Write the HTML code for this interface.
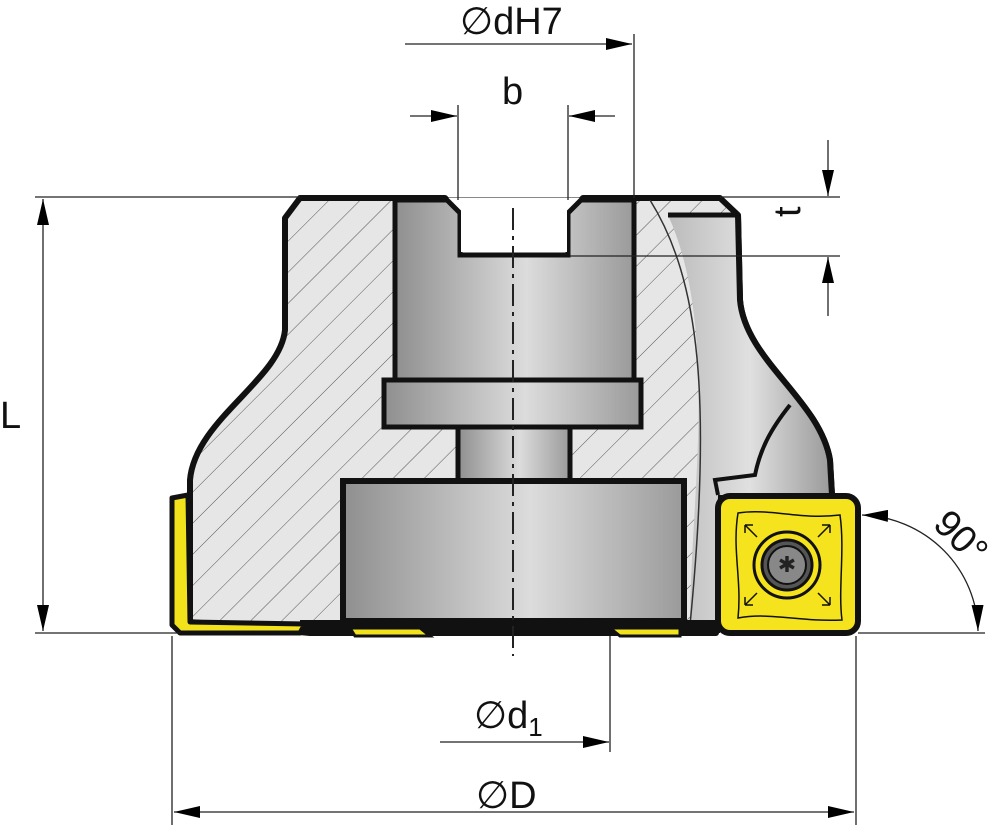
<!DOCTYPE html>
<html><head><style>html,body{margin:0;padding:0;background:#fff}svg{display:block}</style></head><body>
<svg width="1000" height="834" viewBox="0 0 1000 834" xmlns="http://www.w3.org/2000/svg" font-family="Liberation Sans, sans-serif">
<defs>
<pattern id="h" width="22" height="22" patternUnits="userSpaceOnUse" patternTransform="rotate(45)">
<rect width="22" height="22" fill="#e6e6e6"/><line x1="0" y1="0" x2="0" y2="22" stroke="#555" stroke-width="1"/></pattern>
<linearGradient id="g" x1="0" x2="1"><stop offset="0" stop-color="#8f8f8f"/><stop offset="0.55" stop-color="#dcdcdc"/><stop offset="1" stop-color="#9a9a9a"/></linearGradient>
<linearGradient id="g2" x1="0" x2="1"><stop offset="0" stop-color="#bbb"/><stop offset="0.5" stop-color="#e0e0e0"/><stop offset="1" stop-color="#999"/></linearGradient>
<marker id="a" viewBox="0 0 26 12" refX="26" refY="6" markerWidth="26" markerHeight="12" markerUnits="userSpaceOnUse" orient="auto-start-reverse"><path d="M0,0L26,6L0,12z" fill="#000"/></marker>
</defs>
<!-- body -->
<path d="M285,218 L300,198 L445,198 L460,213 L460,255 L568,255 L568,213 L583,198 L720,198 L738,215 L740,300 C745,360 820,400 830,460 L832,495 L718,495 L716,633 L310,633 L190,622 L190,480 C195,420 280,380 285,330 Z" fill="url(#h)" stroke="#111" stroke-width="6" stroke-linejoin="round"/>
<path d="M668,215 L738,215 L740,300 C745,360 820,400 830,460 L832,495 L718,495 L716,625 L690,625 C690,500 720,330 668,215 Z" fill="url(#g2)"/>
<path d="M650,200 C700,280 712,400 690,625" fill="none" stroke="#333" stroke-width="1.5"/>
<path d="M668,215 L738,215" stroke="#111" stroke-width="5"/>
<path d="M790,405 C770,430 760,450 755,475 L715,480 L718,495" fill="none" stroke="#111" stroke-width="4"/>
<path d="M738,215 L740,300 C745,360 820,400 830,460 L832,495" fill="none" stroke="#111" stroke-width="6"/>
<!-- arbor -->
<rect x="395" y="200" width="239" height="182" fill="url(#g)" stroke="#111" stroke-width="5"/>
<path d="M393,198 L445,198 L460,213 L460,255 L568,255 L568,213 L583,198 L636,198" fill="#fff" stroke="#111" stroke-width="5"/>
<rect x="461" y="202" width="106" height="50" fill="#fff"/>
<rect x="458" y="425" width="112" height="58" fill="url(#g)" stroke="#111" stroke-width="5"/>
<rect x="384" y="380" width="257" height="47" fill="url(#g)" stroke="#111" stroke-width="5"/>
<rect x="343" y="481" width="341" height="140" fill="url(#g)" stroke="#111" stroke-width="6"/>
<rect x="300" y="620" width="420" height="13" fill="#111"/>
<!-- yellow bits -->
<path d="M172,498 L188,495 L190,622 L305,624 L300,633 L180,633 L172,625 Z" fill="#f2e21c" stroke="#111" stroke-width="5" stroke-linejoin="round"/>
<path d="M350,628 L420,628 L430,636 L355,636 Z M610,628 L680,628 L680,636 L620,636 Z" fill="#f2e21c" stroke="#111" stroke-width="3"/>
<!-- insert -->
<rect x="718" y="496" width="140" height="137" rx="12" fill="#f4e31d" stroke="#111" stroke-width="6"/>
<path d="M738,513 C770,508 800,520 840,515 C845,550 838,590 842,620 C800,622 770,612 738,618 C742,580 732,550 738,513 Z" fill="none" stroke="#111" stroke-width="1.5"/>
<circle cx="787" cy="565" r="33" fill="none" stroke="#111" stroke-width="3"/>
<circle cx="787" cy="565" r="25" fill="#555" stroke="#111" stroke-width="3"/>
<circle cx="787" cy="565" r="19" fill="#888" stroke="#111" stroke-width="2"/>
<text x="787" y="572" font-size="22" text-anchor="middle" fill="#222">✱</text>
<g stroke="#111" stroke-width="1.5" fill="none"><path d="M745,525l12,12M745,525h8M745,525v8"/><path d="M830,525l-12,12M830,525h-8M830,525v8"/><path d="M745,605l12,-12M745,605h8M745,605v-8"/><path d="M830,605l-12,-12M830,605h-8M830,605v-8"/></g>
<line x1="513" y1="208" x2="513" y2="656" stroke="#222" stroke-width="2" stroke-dasharray="22,6,4,6"/>
<g stroke="#222" stroke-width="1.3" fill="none">
<line x1="35" y1="197" x2="300" y2="197"/><line x1="720" y1="197" x2="840" y2="197"/>
<line x1="35" y1="633" x2="180" y2="633"/><line x1="858" y1="633" x2="985" y2="633"/>
<line x1="43" y1="199" x2="43" y2="631" marker-start="url(#a)" marker-end="url(#a)"/>
<line x1="405" y1="44" x2="632" y2="44" marker-end="url(#a)"/>
<line x1="634" y1="34" x2="634" y2="198"/>
<line x1="458" y1="105" x2="458" y2="200"/><line x1="568" y1="105" x2="568" y2="200"/>
<line x1="410" y1="116" x2="457" y2="116" marker-end="url(#a)"/>
<line x1="615" y1="116" x2="569" y2="116" marker-end="url(#a)"/>
<line x1="570" y1="256" x2="840" y2="256"/>
<line x1="828" y1="140" x2="828" y2="196" marker-end="url(#a)"/>
<line x1="828" y1="316" x2="828" y2="257" marker-end="url(#a)"/>
<line x1="610" y1="636" x2="610" y2="752"/>
<line x1="440" y1="742" x2="609" y2="742" marker-end="url(#a)"/>
<line x1="172" y1="636" x2="172" y2="825"/><line x1="856" y1="636" x2="856" y2="825"/>
<line x1="174" y1="812" x2="854" y2="812" marker-start="url(#a)" marker-end="url(#a)"/>
<path d="M862,515 A120,118 0 0 1 978,631" marker-start="url(#a)" marker-end="url(#a)"/>
</g>
<g font-size="38" fill="#111">
<text x="460" y="34">∅dH7</text>
<text x="502" y="104">b</text>
<text x="0" y="428">L</text>
<text x="817" y="222" transform="rotate(-90 806 228)">t</text>
<text x="474" y="728">∅d<tspan font-size="26" dy="8">1</tspan></text>
<text x="476" y="808">∅D</text>
<text x="932" y="545" transform="rotate(45 955 535)">90°</text>
</g>
</svg>
</body></html>
